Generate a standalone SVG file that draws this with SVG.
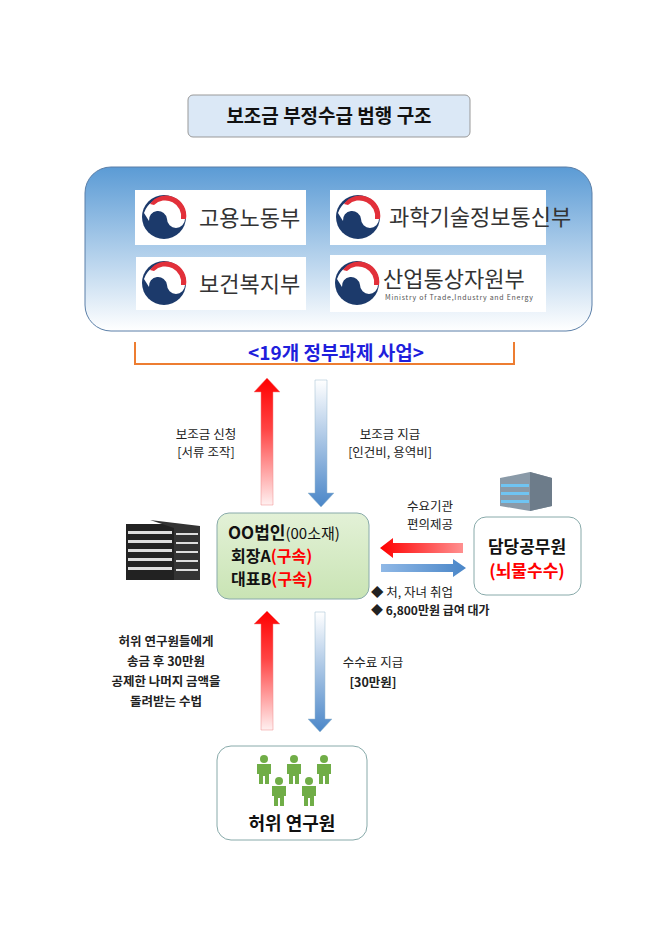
<svg xmlns="http://www.w3.org/2000/svg" width="658" height="950" viewBox="0 0 658 950">
<defs>
<linearGradient id="bg" x1="0" y1="0" x2="0" y2="1"><stop offset="0" stop-color="#5b9bd5"/><stop offset="1" stop-color="#ffffff"/></linearGradient>
<linearGradient id="green" x1="0" y1="0" x2="0" y2="1"><stop offset="0" stop-color="#e3f1d7"/><stop offset="1" stop-color="#c9e4b4"/></linearGradient>
<linearGradient id="redUp" x1="0" y1="1" x2="0" y2="0"><stop offset="0" stop-color="#fff0f0"/><stop offset="0.6" stop-color="#f44"/><stop offset="1" stop-color="#f00"/></linearGradient>
<linearGradient id="blueDown" x1="0" y1="0" x2="0" y2="1"><stop offset="0" stop-color="#ffffff"/><stop offset="1" stop-color="#4a86c8"/></linearGradient>
<linearGradient id="redL" x1="1" y1="0" x2="0" y2="0"><stop offset="0" stop-color="#ff9090"/><stop offset="1" stop-color="#f00"/></linearGradient>
<linearGradient id="blueR" x1="0" y1="0" x2="1" y2="0"><stop offset="0" stop-color="#8fb8e6"/><stop offset="1" stop-color="#4a86c8"/></linearGradient>
<g id="emb">
<circle cx="0" cy="0" r="22" fill="#1c3a6b"/>
<path d="M-15,4 A9,9 0 0 1 3,2 A9,9 0 0 0 21,2 A21,21 0 0 0 -20,-4 Z" fill="#fff"/>
<path d="M-14,-13 A20,20 0 0 1 22,2 L17,2 A16,16 0 0 0 -10,-12 Z" fill="#e2303a"/>
</g>
<g id="person" fill="#70ad47">
<circle cx="0" cy="-7" r="4"/>
<path d="M-7,-2 h14 v10 h-2 v10 h-4 v-8 h-2 v8 h-4 v-10 h-2 z"/>
</g>
</defs>
<style>
text{font-family:"Noto Sans CJK KR","Noto Sans",sans-serif}
.lbl{font-size:12.5px;fill:#222;text-anchor:middle}
.b{font-weight:bold}
.logo{font-size:22px;fill:#333}
</style>
<rect width="658" height="950" fill="#fff"/>
<g id="title">
<rect x="188" y="95" width="282" height="42" rx="5" fill="#dbe8f6" stroke="#999"/>
<text x="329" y="123" font-size="19" font-weight="bold" text-anchor="middle" fill="#111">보조금 부정수급 범행 구조</text>
</g>
<g id="ministries">
<rect x="85" y="167" width="507" height="164" rx="26" fill="url(#bg)" stroke="#5b7fa8"/>
<rect x="135" y="190" width="171" height="55" fill="#fff"/><use href="#emb" x="164" y="217"/><text class="logo" x="199" y="226">고용노동부</text>
<rect x="330" y="190" width="216" height="55" fill="#fff"/><use href="#emb" x="358" y="217"/><text class="logo" x="389" y="225" font-size="19.5">과학기술정보통신부</text>
<rect x="136" y="257" width="170" height="53" fill="#fff"/><use href="#emb" x="164" y="283"/><text class="logo" x="199" y="292">보건복지부</text>
<rect x="330" y="255" width="216" height="57" fill="#fff"/><use href="#emb" x="357" y="283"/><text class="logo" x="383" y="287" font-size="24">산업통상자원부</text>
<text x="385" y="300" font-size="7" fill="#555" textLength="148">Ministry of Trade,Industry and Energy</text>
</g>
<g id="bracket">
<path d="M135,342 V364 H514 V342" fill="none" stroke="#ed7d31" stroke-width="2"/>
<text x="336" y="360" font-size="19" font-weight="bold" fill="#1f1fdc" text-anchor="middle">&lt;19개 정부과제 사업&gt;</text>
</g>
<g id="connectors">
<path d="M261,505 V392 H254 L267,378 L280,392 H273 V505 Z" fill="url(#redUp)" stroke="#e88" stroke-width="0.5"/>
<path d="M315,380 V493 H308 L321,507 L334,493 H327 V380 Z" fill="url(#blueDown)" stroke="#9bc" stroke-width="0.5"/>
<path d="M463,543 V553 H393 V558 L380,548 L393,538 V543 Z" fill="url(#redL)"/>
<path d="M381,564 V572 H453 V577 L466,568 L453,559 V564 Z" fill="url(#blueR)"/>
<path d="M261,730 V624 H254 L267,611 L280,624 H273 V730 Z" fill="url(#redUp)" stroke="#e88" stroke-width="0.5"/>
<path d="M315,612 V719 H308 L320,732 L332,719 H325 V612 Z" fill="url(#blueDown)" stroke="#9bc" stroke-width="0.5"/>
</g>
<g id="labels">
<text class="lbl" x="206" y="439">보조금 신청</text><text class="lbl" x="206" y="457">[서류 조작]</text>
<text class="lbl" x="390" y="439">보조금 지급</text><text class="lbl" x="390" y="457">[인건비, 용역비]</text>
<text class="lbl" x="430" y="511">수요기관</text><text class="lbl" x="430" y="529">편의제공</text>
<text x="371" y="597" font-size="12.5" fill="#222">◆ 처, 자녀 취업</text>
<text x="371" y="615" font-size="12" fill="#222" font-weight="bold">◆ 6,800만원 급여 대가</text>
<text class="lbl b" x="166" y="646">허위 연구원들에게</text>
<text class="lbl b" x="166" y="666">송금 후 30만원</text>
<text class="lbl b" x="166" y="686">공제한 나머지 금액을</text>
<text class="lbl b" x="166" y="706">돌려받는 수법</text>
<text class="lbl" x="373" y="667">수수료 지급</text><text class="lbl b" x="373" y="687">[30만원]</text>
</g>
<g id="building-left" fill="#222">
<rect x="126" y="524" width="48" height="56"/>
<path d="M150,520 L200,526 V580 H174 V528 Z" fill="#333"/>
<g fill="#ddd"><rect x="128" y="531" width="44" height="3"/><rect x="128" y="540" width="44" height="3"/><rect x="128" y="549" width="44" height="3"/><rect x="128" y="558" width="44" height="3"/><rect x="128" y="567" width="44" height="3"/>
<rect x="176" y="533" width="22" height="2"/><rect x="176" y="542" width="22" height="2"/><rect x="176" y="551" width="22" height="2"/><rect x="176" y="560" width="22" height="2"/><rect x="176" y="569" width="22" height="2"/></g>
</g>
<g id="corp">
<rect x="217" y="513" width="152" height="86" rx="12" fill="url(#green)" stroke="#8aa"/>
<text x="228" y="539" font-size="17" font-weight="bold" fill="#111">OO법인<tspan font-weight="normal" font-size="15">(00소재)</tspan></text>
<text x="231" y="562" font-size="16" font-weight="bold" fill="#111">회장A<tspan fill="#f00">(구속)</tspan></text>
<text x="231" y="585" font-size="16" font-weight="bold" fill="#111">대표B<tspan fill="#f00">(구속)</tspan></text>
</g>
<g id="building-right">
<path d="M500,478 L530,472 L552,478 V506 L530,511 L500,506 Z" fill="#8a9aa8"/>
<path d="M530,472 L552,478 V506 L530,511 Z" fill="#6d7c8a"/>
<g fill="#6fc4f2"><rect x="501" y="484" width="28" height="3"/><rect x="501" y="492" width="28" height="3"/><rect x="501" y="500" width="28" height="3"/></g>
</g>
<g id="official">
<rect x="474" y="517" width="107" height="78" rx="12" fill="#fff" stroke="#8aa"/>
<text x="527" y="553" font-size="17" font-weight="bold" text-anchor="middle" fill="#111">담당공무원</text>
<text x="527" y="577" font-size="17" font-weight="bold" text-anchor="middle" fill="#f00">(뇌물수수)</text>
</g>
<g id="researchers">
<rect x="217" y="746" width="150" height="94" rx="14" fill="#fff" stroke="#8aa"/>
<use href="#person" x="264" y="766"/><use href="#person" x="294" y="766"/><use href="#person" x="324" y="766"/>
<use href="#person" x="279" y="788"/><use href="#person" x="309" y="788"/>
<text x="292" y="830" font-size="18" font-weight="bold" text-anchor="middle" fill="#111">허위 연구원</text>
</g>
</svg>
